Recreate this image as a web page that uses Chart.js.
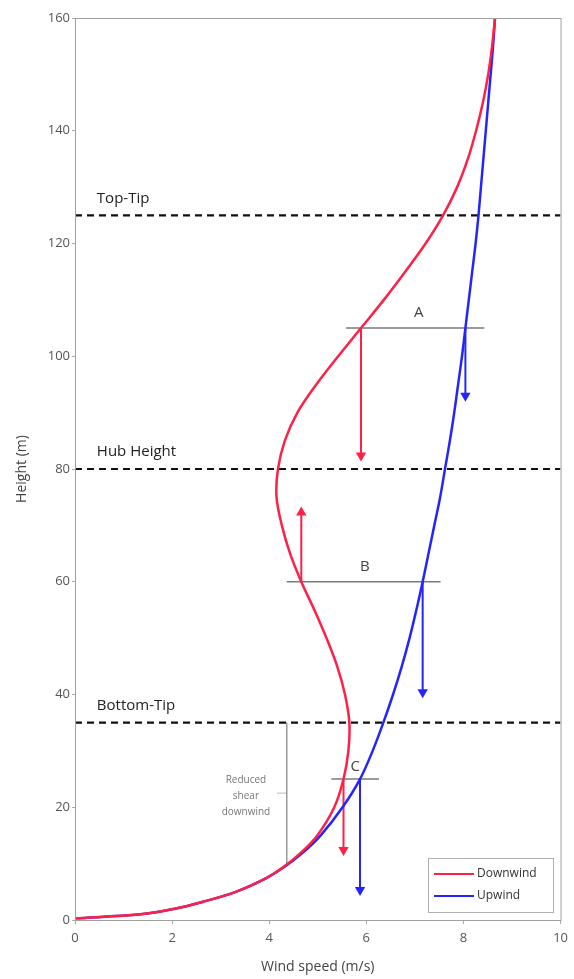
<!DOCTYPE html>
<html>
<head>
<meta charset="utf-8">
<script src="https://cdn.jsdelivr.net/npm/chart.js@4.4.0/dist/chart.umd.min.js"></script>
<style>
    html, body { margin: 0; padding: 0; background: #fff; }
    #wrap { width: 574px; height: 979px; }
</style>
</head>
<body>
<div id="wrap"><canvas id="windChart" width="574" height="979"></canvas></div>
<script>
// Heights (m) shared by both wind profiles
const heights = [0.3, 1, 2, 3.2, 5, 7.4, 9.4, 12, 15, 20, 25, 30, 35, 40, 45, 50, 55, 60, 65, 70,
    75, 80, 85, 90, 95, 100, 105, 110, 115, 120, 125, 130, 135, 140, 145, 150, 155, 160];
const upwindSpeed = [0, 1.35, 2.05, 2.62, 3.31, 3.93, 4.31, 4.7, 5.06, 5.51, 5.87, 6.13, 6.35, 6.55, 6.73, 6.89, 7.03, 7.16, 7.28, 7.4,
    7.52, 7.62, 7.72, 7.81, 7.89, 7.97, 8.04, 8.11, 8.18, 8.25, 8.31, 8.36, 8.41, 8.46, 8.51, 8.56, 8.61, 8.65];
const downwindSpeed = [0, 1.35, 2.05, 2.62, 3.31, 3.93, 4.29, 4.66, 4.99, 5.34, 5.53, 5.63, 5.65, 5.56, 5.4, 5.18, 4.93, 4.66, 4.43, 4.26,
    4.15, 4.18, 4.32, 4.58, 4.97, 5.42, 5.89, 6.36, 6.8, 7.22, 7.58, 7.87, 8.09, 8.26, 8.4, 8.51, 8.59, 8.65];

// Reference heights (dashed lines)
const refHeights = [125, 80, 35];
const refLabels = ['Top-Tip', 'Hub Height', 'Bottom-Tip'];

// Sections A, B, C: height and horizontal marker extent
const sectionNames = ['A', 'B', 'C'];
const sectionHeights = [105, 60, 25];
const sectionStart = [5.58, 4.36, 5.28];
const sectionEnd = [8.43, 7.53, 6.26];

// Arrows: start on curve, end height
const downArrowX = [5.89, 4.66, 5.53];
const downArrowEnd = [82.4, 72.3, 12.4];
const upArrowX = [8.04, 7.16, 5.87];
const upArrowEnd = [93, 40.4, 5.3];

// Bracket for "Reduced shear downwind"
const bracketX = 4.36;
const bracketTop = 35;
const bracketBottom = 9.8;

const xTicks = [0, 2, 4, 6, 8, 10];
const yTicks = [0, 20, 40, 60, 80, 100, 120, 140, 160];

const RED = 'rgb(255, 32, 72)';
const BLUE = 'rgb(36, 36, 255)';

const toPoints = (xs, ys) => xs.map((x, i) => ({ x: x, y: ys[i] }));

const datasets = [
    {
        label: 'Downwind',
        data: toPoints(downwindSpeed, heights),
        borderColor: RED,
        borderWidth: 2.5,
        tension: 0.35,
    },
    {
        label: 'Upwind',
        data: toPoints(upwindSpeed, heights),
        borderColor: BLUE,
        borderWidth: 2.5,
        tension: 0.35,
    },
];

refHeights.forEach((h) => {
    datasets.push({
        label: 'ref',
        data: [{ x: 0, y: h }, { x: 10, y: h }],
        borderColor: '#111',
        borderWidth: 2.2,
        borderDash: [7, 5],
    });
});

sectionHeights.forEach((h, i) => {
    datasets.push({
        label: 'section',
        data: [{ x: sectionStart[i], y: h }, { x: sectionEnd[i], y: h }],
        borderColor: '#7a7a7a',
        borderWidth: 1.5,
    });
});

// arrows drawn from each section height
function arrow(x, from, to, color) {
    return {
        label: 'arrow',
        data: [{ x: x, y: from }, { x: x, y: to }],
        borderColor: color,
        backgroundColor: color,
        borderWidth: 2,
        pointStyle: 'triangle',
        pointRadius: [0, 4],
        pointRotation: to < from ? 180 : 0,
    };
}
sectionHeights.forEach((h, i) => {
    datasets.push(arrow(downArrowX[i], h, downArrowEnd[i], RED));
    datasets.push(arrow(upArrowX[i], h, upArrowEnd[i], BLUE));
});

datasets.push({
    label: 'bracket',
    data: [{ x: bracketX, y: bracketTop }, { x: bracketX, y: bracketBottom }],
    borderColor: '#999',
    borderWidth: 1,
});
datasets.push({
    label: 'bracket',
    data: [{ x: bracketX - 0.2, y: 22.5 }, { x: bracketX, y: 22.5 }],
    borderColor: '#bbb',
    borderWidth: 1,
});

// text, frame and legend
const annotations = {
    id: 'annotations',
    afterDatasetsDraw(chart) {
        const { ctx, chartArea } = chart;
        const xs = chart.scales.x;
        const ys = chart.scales.y;
        ctx.save();

        // frame on top and right
        ctx.strokeStyle = '#a0a0a0';
        ctx.lineWidth = 1;
        ctx.strokeRect(chartArea.left + 0.5, chartArea.top + 0.5, chartArea.width, chartArea.height);

        ctx.fillStyle = '#222';
        ctx.font = '15px "Open Sans", sans-serif';
        ctx.textAlign = 'left';
        ctx.textBaseline = 'middle';
        refHeights.forEach((h, i) => {
            ctx.fillText(refLabels[i], xs.getPixelForValue(0.45), ys.getPixelForValue(h + 3));
        });

        ctx.fillStyle = '#444';
        ctx.textAlign = 'center';
        const labelPos = [[7.08, 107.8], [5.97, 62.6], [5.77, 27.2]];
        sectionNames.forEach((n, i) => {
            ctx.fillText(n, xs.getPixelForValue(labelPos[i][0]), ys.getPixelForValue(labelPos[i][1]));
        });

        ctx.fillStyle = '#777';
        ctx.font = '10px "Open Sans", sans-serif';
        ['Reduced', 'shear', 'downwind'].forEach((t, i) => {
            ctx.fillText(t, xs.getPixelForValue(3.52), ys.getPixelForValue(24.8 - i * 2.8));
        });

        // legend box
        const lx = 428, ly = 858, lw = 125, lh = 54;
        ctx.fillStyle = '#fff';
        ctx.fillRect(lx, ly, lw, lh);
        ctx.strokeStyle = '#b0b0b0';
        ctx.strokeRect(lx + 0.5, ly + 0.5, lw, lh);
        ctx.font = '12px "Open Sans", sans-serif';
        ctx.textAlign = 'left';
        [datasets[0], datasets[1]].forEach((d, i) => {
            const yy = ly + 16 + i * 22;
            ctx.strokeStyle = d.borderColor;
            ctx.lineWidth = 2;
            ctx.beginPath();
            ctx.moveTo(lx + 6, yy);
            ctx.lineTo(lx + 46, yy);
            ctx.stroke();
            ctx.fillStyle = '#333';
            ctx.fillText(d.label, lx + 49, yy);
        });
        ctx.restore();
    },
};

const ctx = document.getElementById('windChart').getContext('2d');
new Chart(ctx, {
    type: 'scatter',
    data: { datasets: datasets },
    options: {
        responsive: false,
        animation: false,
        showLine: true,
        layout: { padding: { top: 18, right: 9, left: 0, bottom: 0 } },
        elements: { point: { radius: 0 }, line: { fill: false } },
        plugins: {
            legend: { display: false },
            tooltip: { enabled: false },
        },
        scales: {
            x: {
                type: 'linear',
                min: 0,
                max: 10,
                afterFit: (scale) => { scale.height = 59; },
                afterBuildTicks: (scale) => { scale.ticks = xTicks.map((v) => ({ value: v })); },
                grid: { drawOnChartArea: false, tickLength: 4, color: '#aaa' },
                border: { color: '#a0a0a0' },
                ticks: { color: '#555', font: { size: 13, family: '"Open Sans", sans-serif' }, padding: 6 },
                title: {
                    display: true,
                    text: 'Wind speed (m/s)',
                    color: '#444',
                    font: { size: 14, family: '"Open Sans", sans-serif' },
                    padding: { top: 0, bottom: 4 },
                },
            },
            y: {
                type: 'linear',
                min: 0,
                max: 160,
                afterFit: (scale) => { scale.width = 75; },
                afterBuildTicks: (scale) => { scale.ticks = yTicks.map((v) => ({ value: v })); },
                grid: { drawOnChartArea: false, tickLength: 3, color: '#aaa' },
                border: { color: '#a0a0a0' },
                ticks: { color: '#555', font: { size: 13, family: '"Open Sans", sans-serif' }, padding: 2 },
                title: {
                    display: true,
                    text: 'Height (m)',
                    color: '#444',
                    font: { size: 14, family: '"Open Sans", sans-serif' },
                    padding: { top: 14, bottom: 0 },
                },
            },
        },
    },
    plugins: [annotations],
});
</script>
</body>
</html>
